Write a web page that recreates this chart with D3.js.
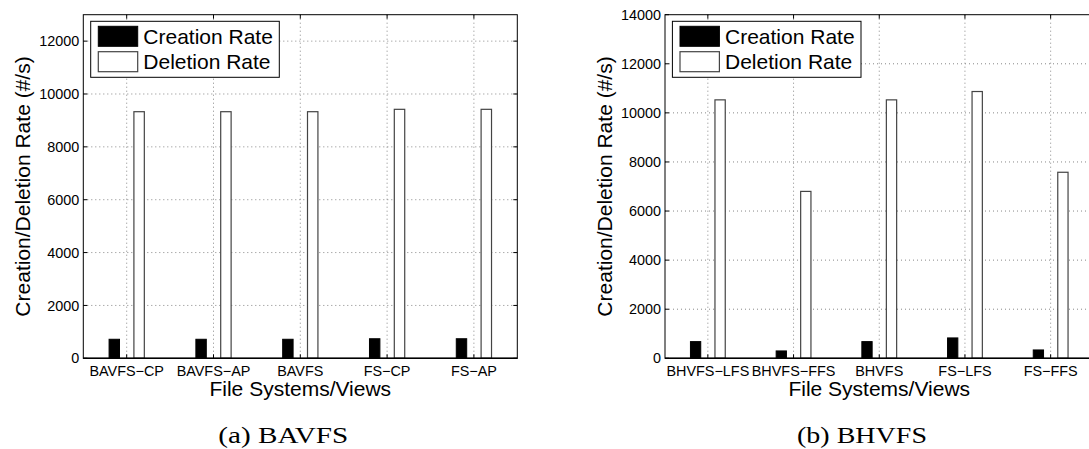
<!DOCTYPE html>
<html><head><meta charset="utf-8">
<script src="https://cdn.jsdelivr.net/npm/d3@7/dist/d3.min.js"></script>
<style>
html,body{margin:0;padding:0;background:#fff;}
svg{display:block;}
text{font-family:"Liberation Sans",Arial,Helvetica,sans-serif;fill:#000;}
</style></head>
<body>
<svg id="c" width="1089" height="449"></svg>
<script>
const categoriesA = ["BAVFS\u2212CP","BAVFS\u2212AP","BAVFS","FS\u2212CP","FS\u2212AP"];
const creationA = [720,720,720,740,740];
const deletionA = [9330,9330,9330,9420,9420];
const yTicksA = [0,2000,4000,6000,8000,10000,12000];
const yMaxA = 13000;

const categoriesB = ["BHVFS\u2212LFS","BHVFS\u2212FFS","BHVFS","FS\u2212LFS","FS\u2212FFS"];
const creationB = [680,300,680,830,340];
const deletionB = [10530,6800,10530,10870,7580];
const yTicksB = [0,2000,4000,6000,8000,10000,12000,14000];
const yMaxB = 14000;

const seriesNames = ["Creation Rate","Deletion Rate"];
const captions = ["(a) BAVFS","(b) BHVFS"];

const svg = d3.select("#c");

function panel(cfg){
  const {left,right,top,bottom,cats,cre,del,ticks,ymax,caption} = cfg;
  const g = svg.append("g");
  const x = d3.scaleLinear().domain([0.5, cats.length+0.5]).range([left,right]);
  const y = d3.scaleLinear().domain([0,ymax]).range([bottom,top]);
  const idx = cats.map((c,i)=>i+1);

  // grid
  g.selectAll(".hg").data(ticks.filter(t=>t>0 && t<ymax)).enter().append("line")
    .attr("x1",left).attr("x2",right).attr("y1",d=>y(d)).attr("y2",d=>y(d))
    .attr("stroke","#888").attr("stroke-width",1).attr("stroke-dasharray","1,3");
  g.selectAll(".vg").data(idx).enter().append("line")
    .attr("x1",d=>x(d)).attr("x2",d=>x(d)).attr("y1",top).attr("y2",bottom)
    .attr("stroke","#888").attr("stroke-width",1).attr("stroke-dasharray","1,3");

  const off = 0.143, bw = 0.12;
  const w = x(bw)-x(0);
  // creation bars
  g.selectAll(".cb").data(cre).enter().append("rect")
    .attr("x",(d,i)=>x(i+1-off)-w/2).attr("width",w)
    .attr("y",d=>y(d)).attr("height",d=>y(0)-y(d))
    .attr("fill","#000").attr("stroke","#000").attr("stroke-width",1);
  // deletion bars
  g.selectAll(".db").data(del).enter().append("rect")
    .attr("x",(d,i)=>x(i+1+off)-w/2).attr("width",w)
    .attr("y",d=>y(d)).attr("height",d=>y(0)-y(d))
    .attr("fill","#fff").attr("stroke","#444").attr("stroke-width",1.2);

  // frame
  g.append("rect").attr("x",left).attr("y",top).attr("width",right-left).attr("height",bottom-top)
    .attr("fill","none").attr("stroke","#000").attr("stroke-width",1);
  g.append("line").attr("x1",left).attr("x2",right).attr("y1",bottom).attr("y2",bottom)
    .attr("stroke","#000").attr("stroke-width",1.6);

  // ticks inward
  const tl = 4;
  ticks.forEach(t=>{
    g.append("line").attr("x1",left).attr("x2",left+tl).attr("y1",y(t)).attr("y2",y(t)).attr("stroke","#000");
    g.append("line").attr("x1",right).attr("x2",right-tl).attr("y1",y(t)).attr("y2",y(t)).attr("stroke","#000");
  });
  idx.forEach(i=>{
    g.append("line").attr("x1",x(i)).attr("x2",x(i)).attr("y1",bottom).attr("y2",bottom-tl).attr("stroke","#000");
    g.append("line").attr("x1",x(i)).attr("x2",x(i)).attr("y1",top).attr("y2",top+tl).attr("stroke","#000");
  });

  // tick labels
  g.selectAll(".yl").data(ticks).enter().append("text")
    .attr("x",left-4).attr("y",d=>y(d)).attr("dy","0.36em")
    .attr("text-anchor","end").style("font-size","14.4px").text(d=>d);
  g.selectAll(".xl").data(cats).enter().append("text")
    .attr("x",(d,i)=>x(i+1)).attr("y",bottom+18)
    .attr("text-anchor","middle").style("font-size","14.4px").text(d=>d);

  // axis labels
  g.append("text").attr("x",(left+right)/2).attr("y",bottom+38)
    .attr("text-anchor","middle").style("font-size","21px").text("File Systems/Views");
  g.append("text").attr("transform",`translate(${left-53},${(top+bottom)/2}) rotate(-90)`)
    .attr("text-anchor","middle").style("font-size","21px").text("Creation/Deletion Rate (#/s)");

  // legend
  const lx = left+7.4, ly = 21.3;
  g.append("rect").attr("x",lx).attr("y",ly).attr("width",188.6).attr("height",56)
    .attr("fill","#fff").attr("stroke","#000").attr("stroke-width",1);
  g.append("rect").attr("x",lx+7.6).attr("y",ly+5).attr("width",39.4).attr("height",20)
    .attr("fill","#000").attr("stroke","#000");
  g.append("rect").attr("x",lx+7.6).attr("y",ly+30.4).attr("width",39.4).attr("height",20)
    .attr("fill","#fff").attr("stroke","#444").attr("stroke-width",1.2);
  seriesNames.forEach((s,k)=>{
    g.append("text").attr("x",lx+52.6).attr("y",ly+22.5+k*25.4)
      .style("font-size","21px").text(s);
  });

  // caption
  g.append("text").attr("x",cfg.capX).attr("y",443).attr("text-anchor","middle")
    .attr("textLength",130).attr("lengthAdjust","spacingAndGlyphs")
    .style("font-family","'Liberation Serif','DejaVu Serif',serif").style("font-size","23px")
    .text(caption);
}

panel({left:83.3,right:517.3,top:14.7,bottom:358.3,cats:categoriesA,cre:creationA,del:deletionA,ticks:yTicksA,ymax:yMaxA,caption:captions[0],capX:283.3});
panel({left:665,right:1093.5,top:14.7,bottom:358.3,cats:categoriesB,cre:creationB,del:deletionB,ticks:yTicksB,ymax:yMaxB,caption:captions[1],capX:862});
</script>
</body></html>
